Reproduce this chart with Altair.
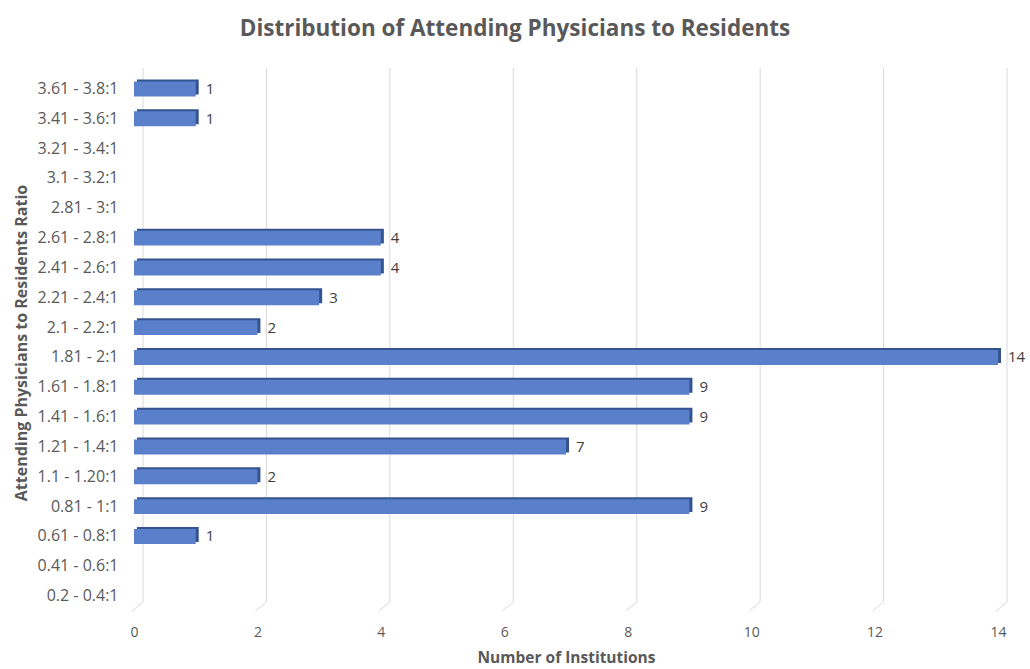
import altair as alt
import pandas as pd

categories = ["3.61 - 3.8:1", "3.41 - 3.6:1", "3.21 - 3.4:1", "3.1 - 3.2:1", "2.81 - 3:1",
              "2.61 - 2.8:1", "2.41 - 2.6:1", "2.21 - 2.4:1", "2.1 - 2.2:1", "1.81 - 2:1",
              "1.61 - 1.8:1", "1.41 - 1.6:1", "1.21 - 1.4:1", "1.1 - 1.20:1", "0.81 - 1:1",
              "0.61 - 0.8:1", "0.41 - 0.6:1", "0.2 - 0.4:1"]
values = [1, 1, None, None, None, 4, 4, 3, 2, 14, 9, 9, 7, 2, 9, 1, None, None]
x_ticks = [0, 2, 4, 6, 8, 10, 12, 14]

df = pd.DataFrame({"ratio": categories, "count": values})
bars_df = df.dropna()
ticks_df = pd.DataFrame({"t": x_ticks})

FONT = "Open Sans"
GREY = "#595959"

x_scale = alt.Scale(domain=[0, 14], nice=False)
y_scale = alt.Scale(domain=categories, paddingInner=0.5, paddingOuter=0.25)

base = alt.Chart(bars_df)

grid_v = alt.Chart(ticks_df).mark_rule(color="#d9d9d9", strokeWidth=1, xOffset=9).encode(
    x=alt.X("t:Q", scale=x_scale),
    y=alt.value(-6), y2=alt.value(528))
grid_d = alt.Chart(ticks_df).mark_rule(color="#d9d9d9", strokeWidth=1, xOffset=9, x2Offset=-2).encode(
    x=alt.X("t:Q", scale=x_scale), x2="t:Q",
    y=alt.value(528), y2=alt.value(537))

shadow = base.mark_bar(color="#34538F", xOffset=3, yOffset=-2).encode(
    x=alt.X("count:Q", scale=x_scale),
    y=alt.Y("ratio:N", scale=y_scale))

bars = base.mark_bar(color="#5B80CB").encode(
    x=alt.X("count:Q", scale=x_scale,
            axis=alt.Axis(values=x_ticks, format="d", title="Number of Institutions", grid=False,
                          domain=False, ticks=False, labelPadding=14, titlePadding=11,
                          labelFlush=False,
                          labelFont=FONT, labelFontSize=14, labelColor=GREY,
                          titleFont=FONT, titleFontSize=15.5, titleFontWeight="bold",
                          titleColor=GREY)),
    y=alt.Y("ratio:N", scale=y_scale, sort=categories,
            axis=alt.Axis(title="Attending Physicians  to Residents Ratio", grid=False,
                          domain=False, ticks=False, labelPadding=16, titlePadding=8,
                          labelFont=FONT, labelFontSize=16, labelColor=GREY,
                          titleFont=FONT, titleFontSize=16, titleFontWeight="bold",
                          titleColor=GREY)))

labels = base.mark_text(align="left", baseline="middle", dx=10, font=FONT, fontSize=15,
                        color="#404040").encode(
    x=alt.X("count:Q", scale=x_scale),
    y=alt.Y("ratio:N", scale=y_scale),
    text="count:Q")

chart = alt.layer(grid_v, grid_d, shadow, bars, labels).properties(
    width=864, height=537,
    autosize=alt.AutoSizeParams(type="none"),
    padding={"left": 134, "top": 74, "right": 32, "bottom": 58},
    title=alt.TitleParams("Distribution of Attending Physicians to Residents",
                          font=FONT, fontSize=22.5, fontWeight="bold", color=GREY,
                          anchor="middle", offset=27, dx=-51),
).configure_view(stroke=None)

chart.save("out.html", embed_options={"renderer": "svg", "actions": False})
